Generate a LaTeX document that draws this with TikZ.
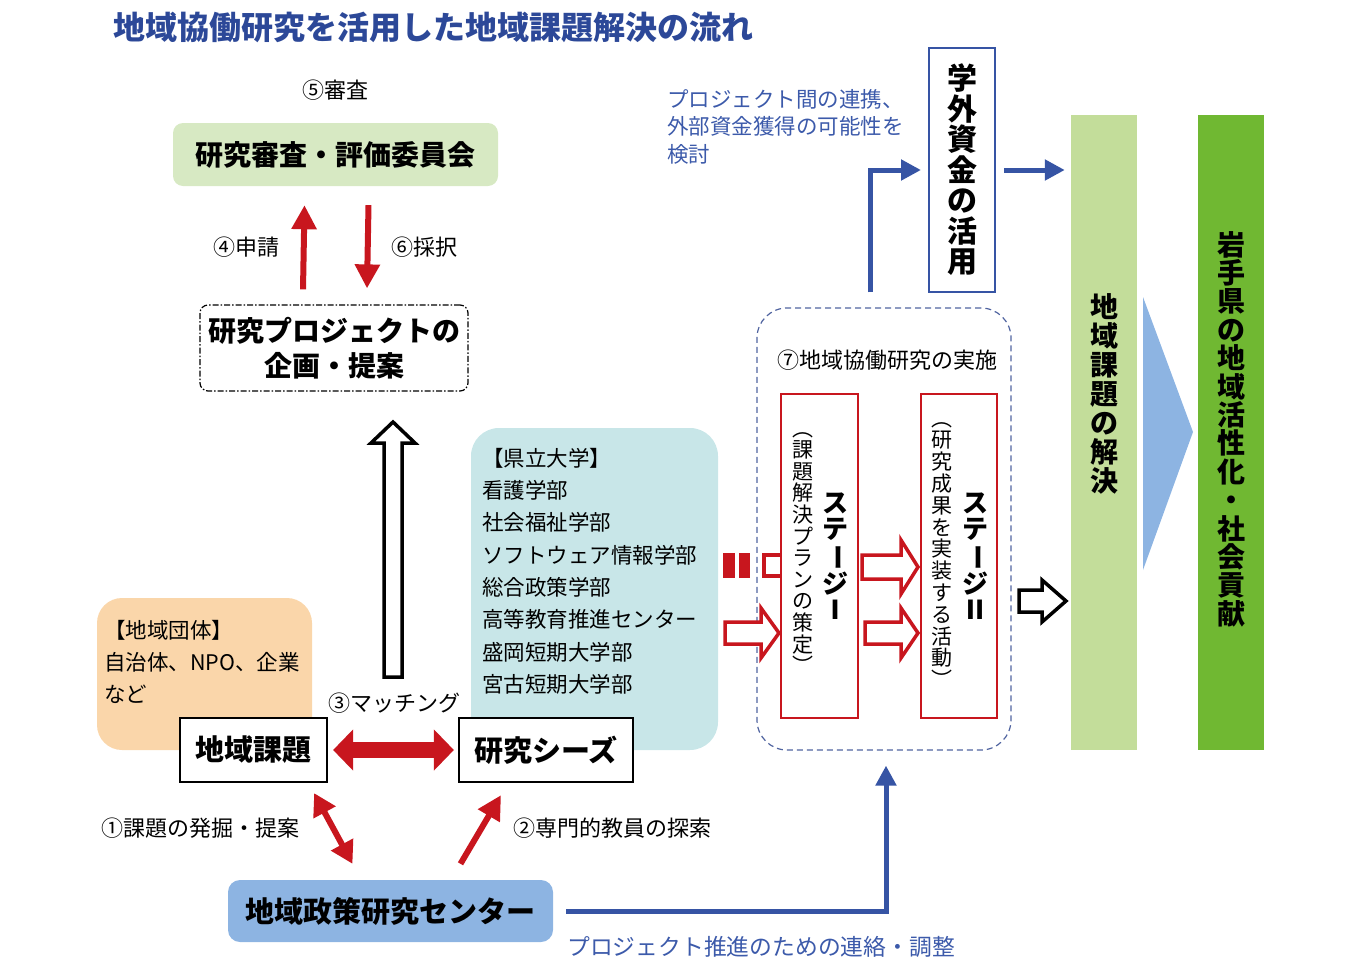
\documentclass[tikz,border=0pt]{standalone}
\usepackage{fontspec}
\setmainfont{Noto Sans CJK JP}
\usepackage{graphicx}
\usetikzlibrary{arrows.meta,positioning}

\definecolor{titleblue}{RGB}{44,72,152}
\definecolor{txtblue}{RGB}{60,90,170}
\definecolor{myblue}{RGB}{54,84,164}
\definecolor{dashblue}{RGB}{80,100,160}
\definecolor{myred}{RGB}{200,22,30}
\definecolor{reviewgreen}{RGB}{215,233,195}
\definecolor{orgpeach}{RGB}{250,214,170}
\definecolor{univteal}{RGB}{200,230,232}
\definecolor{centerblue}{RGB}{141,180,226}
\definecolor{solvegreen}{RGB}{195,221,154}
\definecolor{iwategreen}{RGB}{112,184,50}

% vertical long vowel mark
\newcommand*{\vbar}{\rotatebox[origin=c]{-90}{ー}}
% hollow block arrow pointing right: [style]{x start}{x head}{x tip}{y}{half shaft}{half head}
\newcommand*{\blockArrow}[7][]{%
  \draw[#1] (#2,#5-#6) -- (#3,#5-#6) -- (#3,#5-#7) -- (#4,#5)
    -- (#3,#5+#7) -- (#3,#5+#6) -- (#2,#5+#6) -- cycle;}

\begin{document}
\begin{tikzpicture}[x=1pt,y=-1pt,
    every node/.style={inner sep=0pt},
    lbl/.style={font=\fontsize{22}{26}\selectfont},
    listtxt/.style={font=\fontsize{21.5}{32.3}\selectfont, align=left, anchor=north west},
    keybox/.style={draw=black, line width=2.2pt, fill=white, font=\bfseries\fontsize{29}{32}\selectfont},
    stagebox/.style={draw=myred, line width=1.8pt, fill=white, minimum width=77pt, minimum height=324pt},
    vtxt/.style={align=center},
    redarrow/.style={draw=myred, line width=6pt, -{Triangle[length=24pt,width=24pt]}},
    redboth/.style={draw=myred, line width=6pt, {Triangle[length=22pt,width=24pt]}-{Triangle[length=22pt,width=24pt]}},
    matcharrow/.style={draw=myred, line width=16pt, {Triangle[length=20pt,width=40pt]}-{Triangle[length=20pt,width=40pt]}},
    bluearrow/.style={draw=myblue, line width=5pt, -{Triangle[length=20pt,width=20pt]}},
    hollowred/.style={draw=myred, line width=3.5pt, fill=white},
    hollowblack/.style={draw=black, line width=3.5pt, fill=white}
]
\useasboundingbox (0,0) rectangle (1361,972);

\node[anchor=west, text=titleblue, font=\bfseries\fontsize{32}{34}\selectfont] (title) at (113,27) {地域協働研究を活用した地域課題解決の流れ};

% review and proposal
\node[lbl] (step5) at (335,90) {⑤審査};
\node[fill=reviewgreen, rounded corners=10pt, minimum width=325pt, minimum height=63pt,
      font=\bfseries\fontsize{28}{30}\selectfont] (review) at (335.5,154.5) {研究審査・評価委員会};
\node[draw, dash pattern=on 6pt off 2pt on 1.5pt off 2pt, line width=1.2pt, rounded corners=8pt,
      minimum width=268pt, minimum height=86pt,
      align=center, font=\bfseries\fontsize{28}{35}\selectfont] (plan) at (334,348) {研究プロジェクトの\\企画・提案};
\draw[redarrow] ([xshift=-31pt,yshift=15pt]plan.north) -- ([xshift=-31pt,yshift=-19pt]review.south);
\draw[redarrow] ([xshift=33pt,yshift=-19pt]review.south) -- ([xshift=33pt,yshift=16pt]plan.north);
\node[lbl] (step4) at (246,247) {④申請};
\node[lbl] (step6) at (424,247) {⑥採択};

% groups
\node[fill=orgpeach, rounded corners=25pt, minimum width=215pt, minimum height=152pt] (org) at (204.5,674) {};
\node[listtxt] (orgtxt) at (104,620) {【地域団体】\\自治体、NPO、企業\\など};
\node[fill=univteal, rounded corners=28pt, minimum width=247pt, minimum height=322pt] (univ) at (594.5,589) {};
\node[listtxt] (univtxt) at (482,448) {【県立大学】\\看護学部\\社会福祉学部\\ソフトウェア情報学部\\総合政策学部\\高等教育推進センター\\盛岡短期大学部\\宮古短期大学部};

% matching
\draw[hollowblack] (384,677) -- (402,677) -- (402,443) -- (415,443) -- (393,422)
    -- (371,443) -- (384,443) -- cycle;
\node[keybox, minimum width=147pt, minimum height=64pt] (issue) at (253.5,750) {地域課題};
\node[keybox, minimum width=174pt, minimum height=64pt] (seeds) at (546,750) {研究シーズ};
\draw[matcharrow, shorten <=5pt, shorten >=4pt] (issue.east) -- (seeds.west);
\node[lbl] (step3) at (394,703) {③マッチング};

\node[fill=centerblue, rounded corners=12pt, minimum width=325pt, minimum height=62pt,
      font=\bfseries\fontsize{29}{32}\selectfont] (ctr) at (390.5,911) {地域政策研究センター};
\draw[redboth] ([xshift=-14pt,yshift=-10pt]issue.south east) -- ([xshift=-38pt,yshift=16pt]ctr.north);
\draw[redarrow] ([xshift=70pt,yshift=16pt]ctr.north) -- ([xshift=-45pt,yshift=-12pt]seeds.south);
\node[lbl] (step1) at (200,828) {①課題の発掘・提案};
\node[lbl] (step2) at (612,828) {②専門的教員の探索};

% implementation
\node[draw=dashblue, dash pattern=on 6pt off 4pt, line width=1.2pt, rounded corners=30pt,
      minimum width=254pt, minimum height=442pt] (impl) at (884,529) {};
\node[lbl] (step7) at (887,360) {⑦地域協働研究の実施};
\node[stagebox] (stage1) at (819.5,556) {};
\node[stagebox, minimum width=76pt] (stage2) at (959,556) {};
\node[vtxt, font=\bfseries\fontsize{26}{26}\selectfont] (stage1name) at (835,556) {ス\\テ\\\vbar\\ジ\\Ⅰ};
\node[vtxt, font=\fontsize{21}{21.6}\selectfont] (stage1sub) at (803,553) {︵\\課\\題\\解\\決\\プ\\ラ\\ン\\の\\策\\定\\︶};
\node[vtxt, font=\bfseries\fontsize{26}{26}\selectfont] (stage2name) at (975,556) {ス\\テ\\\vbar\\ジ\\Ⅱ};
\node[vtxt, font=\fontsize{21}{21.8}\selectfont] (stage2sub) at (942,555) {︵\\研\\究\\成\\果\\を\\実\\装\\す\\る\\活\\動\\︶};

\fill[myred] (723,553) rectangle (735,578);
\fill[myred] (739,553) rectangle (750,578);
\draw[myred, line width=3.5pt] (781,555) -- (764,555) -- (764,576) -- (781,576);
\blockArrow[hollowred]{725}{761}{779}{633}{11}{25}
\blockArrow[hollowred]{862}{901}{918}{567}{12}{27}
\blockArrow[hollowred]{865}{901}{918}{633}{11}{25}
\blockArrow[hollowblack]{1019}{1042}{1066}{601}{11}{21}

% funding and links
\node[draw=myblue, line width=2pt, fill=white, minimum width=66pt, minimum height=244pt,
      align=center, font=\bfseries\fontsize{30}{30.5}\selectfont] (fund) at (962,170) {学\\外\\資\\金\\の\\活\\用};
\node[listtxt, font=\fontsize{21.5}{27.5}\selectfont, text=txtblue] (fundnote) at (667,89)
    {プロジェクト間の連携、\\外部資金獲得の可能性を\\検討};
\draw[bluearrow] ([xshift=-14pt,yshift=15pt]impl.north) |- ([xshift=-7pt]fund.west);
\draw[bluearrow] ([xshift=13pt]ctr.east) -| ([xshift=2pt,yshift=-15pt]impl.south);
\node[lbl, font=\fontsize{22.8}{26}\selectfont, text=txtblue] (ctrnote) at (761,947) {プロジェクト推進のための連絡・調整};

% results
\node[fill=solvegreen, minimum width=66pt, minimum height=635pt] (solve) at (1104,432.5) {};
\node[vtxt, font=\bfseries\fontsize{28}{29}\selectfont] (solvetxt) at (1104,394) {地\\域\\課\\題\\の\\解\\決};
\node[fill=iwategreen, minimum width=66pt, minimum height=635pt] (iwate) at (1231,432.5) {};
\node[vtxt, font=\bfseries\fontsize{28}{28.4}\selectfont] (iwatetxt) at (1231,429) {岩\\手\\県\\の\\地\\域\\活\\性\\化\\・\\社\\会\\貢\\献};
\draw[bluearrow, shorten >=6pt] ([xshift=8pt]fund.east) -- (fund.east -| solve.west);
\fill[centerblue] (1143,297) -- (1193,432) -- (1143,570) -- cycle;

\end{tikzpicture}
\end{document}
